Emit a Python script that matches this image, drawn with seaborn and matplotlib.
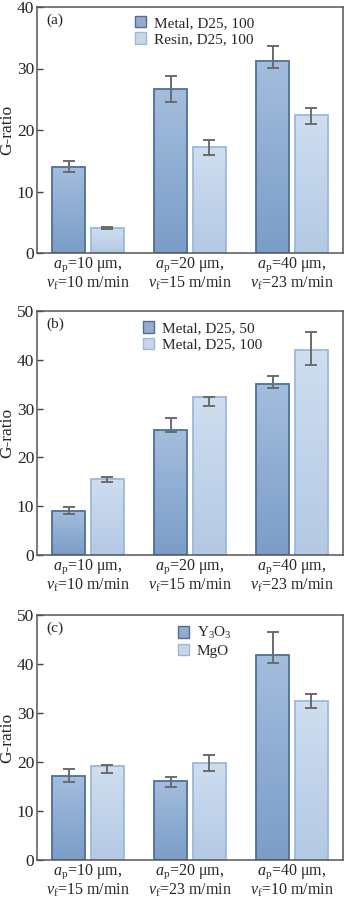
import numpy as np
import pandas as pd
import matplotlib
matplotlib.use("Agg")
import matplotlib.pyplot as plt
import seaborn as sns
from matplotlib.colors import LinearSegmentedColormap

# ---------------- data ----------------
cats_a = ["$a_\\mathrm{p}$=10 μm,\n$v_\\mathrm{f}$=10 m/min",
          "$a_\\mathrm{p}$=20 μm,\n$v_\\mathrm{f}$=15 m/min",
          "$a_\\mathrm{p}$=40 μm,\n$v_\\mathrm{f}$=23 m/min"]
cats_b = cats_a
cats_c = ["$a_\\mathrm{p}$=10 μm,\n$v_\\mathrm{f}$=15 m/min",
          "$a_\\mathrm{p}$=20 μm,\n$v_\\mathrm{f}$=23 m/min",
          "$a_\\mathrm{p}$=40 μm,\n$v_\\mathrm{f}$=10 m/min"]

series_a = ["Metal, D25, 100", "Resin, D25, 100"]
vals_a1 = [14.0, 26.6, 31.3]
lo_a1 = [13.2, 24.6, 30.1]
hi_a1 = [15.0, 28.8, 33.6]
vals_a2 = [4.1, 17.2, 22.5]
lo_a2 = [3.9, 15.9, 20.9]
hi_a2 = [4.3, 18.3, 23.5]

series_b = ["Metal, D25, 50", "Metal, D25, 100"]
vals_b1 = [9.1, 25.6, 35.1]
lo_b1 = [8.5, 25.3, 34.2]
hi_b1 = [9.8, 28.0, 36.6]
vals_b2 = [15.6, 32.4, 42.1]
lo_b2 = [15.0, 30.5, 38.9]
hi_b2 = [16.0, 32.4, 45.6]

series_c = ["Y$_3$O$_3$", "MgO"]
vals_c1 = [17.2, 16.2, 41.9]
lo_c1 = [16.0, 14.9, 40.2]
hi_c1 = [18.5, 16.9, 46.6]
vals_c2 = [19.1, 19.8, 32.5]
lo_c2 = [17.8, 18.2, 31.0]
hi_c2 = [19.4, 21.5, 33.8]

ylims = [40, 50, 50]
panel_labels = ["(a)", "(b)", "(c)"]

# ---------------- style ----------------
sns.set_theme(style="white")
plt.rcParams["font.family"] = ["Liberation Serif", "DejaVu Serif"]
plt.rcParams["mathtext.fontset"] = "custom"
plt.rcParams["mathtext.rm"] = "Liberation Serif"
plt.rcParams["mathtext.it"] = "Liberation Serif:italic"
plt.rcParams["mathtext.bf"] = "Liberation Serif:bold"

dark_face = "#8dabd2"
light_face = "#c3d5ec"
dark_edge = "#4d6f98"
light_edge = "#9cb8da"
grad_dark = LinearSegmentedColormap.from_list("gd", ["#7b9dc8", "#a3bddd"])
grad_light = LinearSegmentedColormap.from_list("gl", ["#b4c9e4", "#cfdef0"])

fig = plt.figure(figsize=(3.5, 9), dpi=100)
rects = [
    [37 / 350, 1 - 253 / 900, 306 / 350, 246 / 900],
    [37 / 350, 1 - 555 / 900, 306 / 350, 244 / 900],
    [37 / 350, 1 - 860 / 900, 306 / 350, 245 / 900],
]
legend_anchor = [(0.29, 1.0), (0.315, 0.995), (0.43, 0.995)]

panels = [
    (cats_a, series_a, (vals_a1, lo_a1, hi_a1), (vals_a2, lo_a2, hi_a2)),
    (cats_b, series_b, (vals_b1, lo_b1, hi_b1), (vals_b2, lo_b2, hi_b2)),
    (cats_c, series_c, (vals_c1, lo_c1, hi_c1), (vals_c2, lo_c2, hi_c2)),
]

for i, (cats, series, s1, s2) in enumerate(panels):
    ax = fig.add_axes(rects[i])
    df = pd.DataFrame({
        "cat": cats * 2,
        "series": [series[0]] * 3 + [series[1]] * 3,
        "val": list(s1[0]) + list(s2[0]),
    })
    sns.barplot(data=df, x="cat", y="val", hue="series", hue_order=series,
                palette=[dark_face, light_face], errorbar=None,
                width=0.76, gap=0.16, ax=ax, zorder=2)
    ymax = ylims[i]
    for cont, (vals, lo, hi), edge, cmap in zip(
            ax.containers, [s1, s2], [dark_edge, light_edge], [grad_dark, grad_light]):
        xs = []
        for p in cont.patches:
            p.set_edgecolor(edge)
            p.set_linewidth(1.3)
            x0, w = p.get_x(), p.get_width()
            h = p.get_height()
            xs.append(x0 + w / 2)
            im = ax.imshow(np.linspace(0, 1, 64).reshape(-1, 1), cmap=cmap,
                           origin="lower", aspect="auto",
                           extent=[x0, x0 + w, 0, h], zorder=2.1)
            im.set_clip_path(p)
            p.set_facecolor("none")
            p.set_zorder(2.2)
        vals = np.array(vals)
        yerr = np.vstack([vals - np.array(lo), np.array(hi) - vals])
        ax.errorbar(xs, vals, yerr=yerr, fmt="none", ecolor="#6b6b6b",
                    elinewidth=1.4, capsize=4.5, capthick=1.4, zorder=3)
    ax.set_xlim(-0.5, 2.5)
    ax.set_ylim(0, ymax)

    ax.set_xlabel("")
    ax.set_ylabel("G-ratio", fontsize=12.5, labelpad=1)
    ax.set_yticks(np.arange(0, ymax + 1, 10))
    ax.tick_params(axis="y", direction="in", length=4, width=1, color="#444444",
                   labelsize=12.5, pad=2, left=True)
    ax.tick_params(axis="x", length=0, labelsize=11.5, pad=2)
    for lab in ax.get_xticklabels():
        lab.set_linespacing(1.0)
    for sp in ax.spines.values():
        sp.set_visible(True)
        sp.set_color("#555555")
        sp.set_linewidth(1.1)
    ax.text(0.03, 0.975, panel_labels[i], transform=ax.transAxes,
            ha="left", va="top", fontsize=11)
    leg = ax.legend(frameon=False, loc="upper left", bbox_to_anchor=legend_anchor[i],
                    fontsize=11, handlelength=0.75, handleheight=0.75,
                    handletextpad=0.5, labelspacing=0.15, borderaxespad=0.2)
    for h, e in zip(leg.legend_handles, [dark_edge, light_edge]):
        h.set_edgecolor(e)
        h.set_linewidth(1.0)

fig.savefig("out.png", dpi=100)
